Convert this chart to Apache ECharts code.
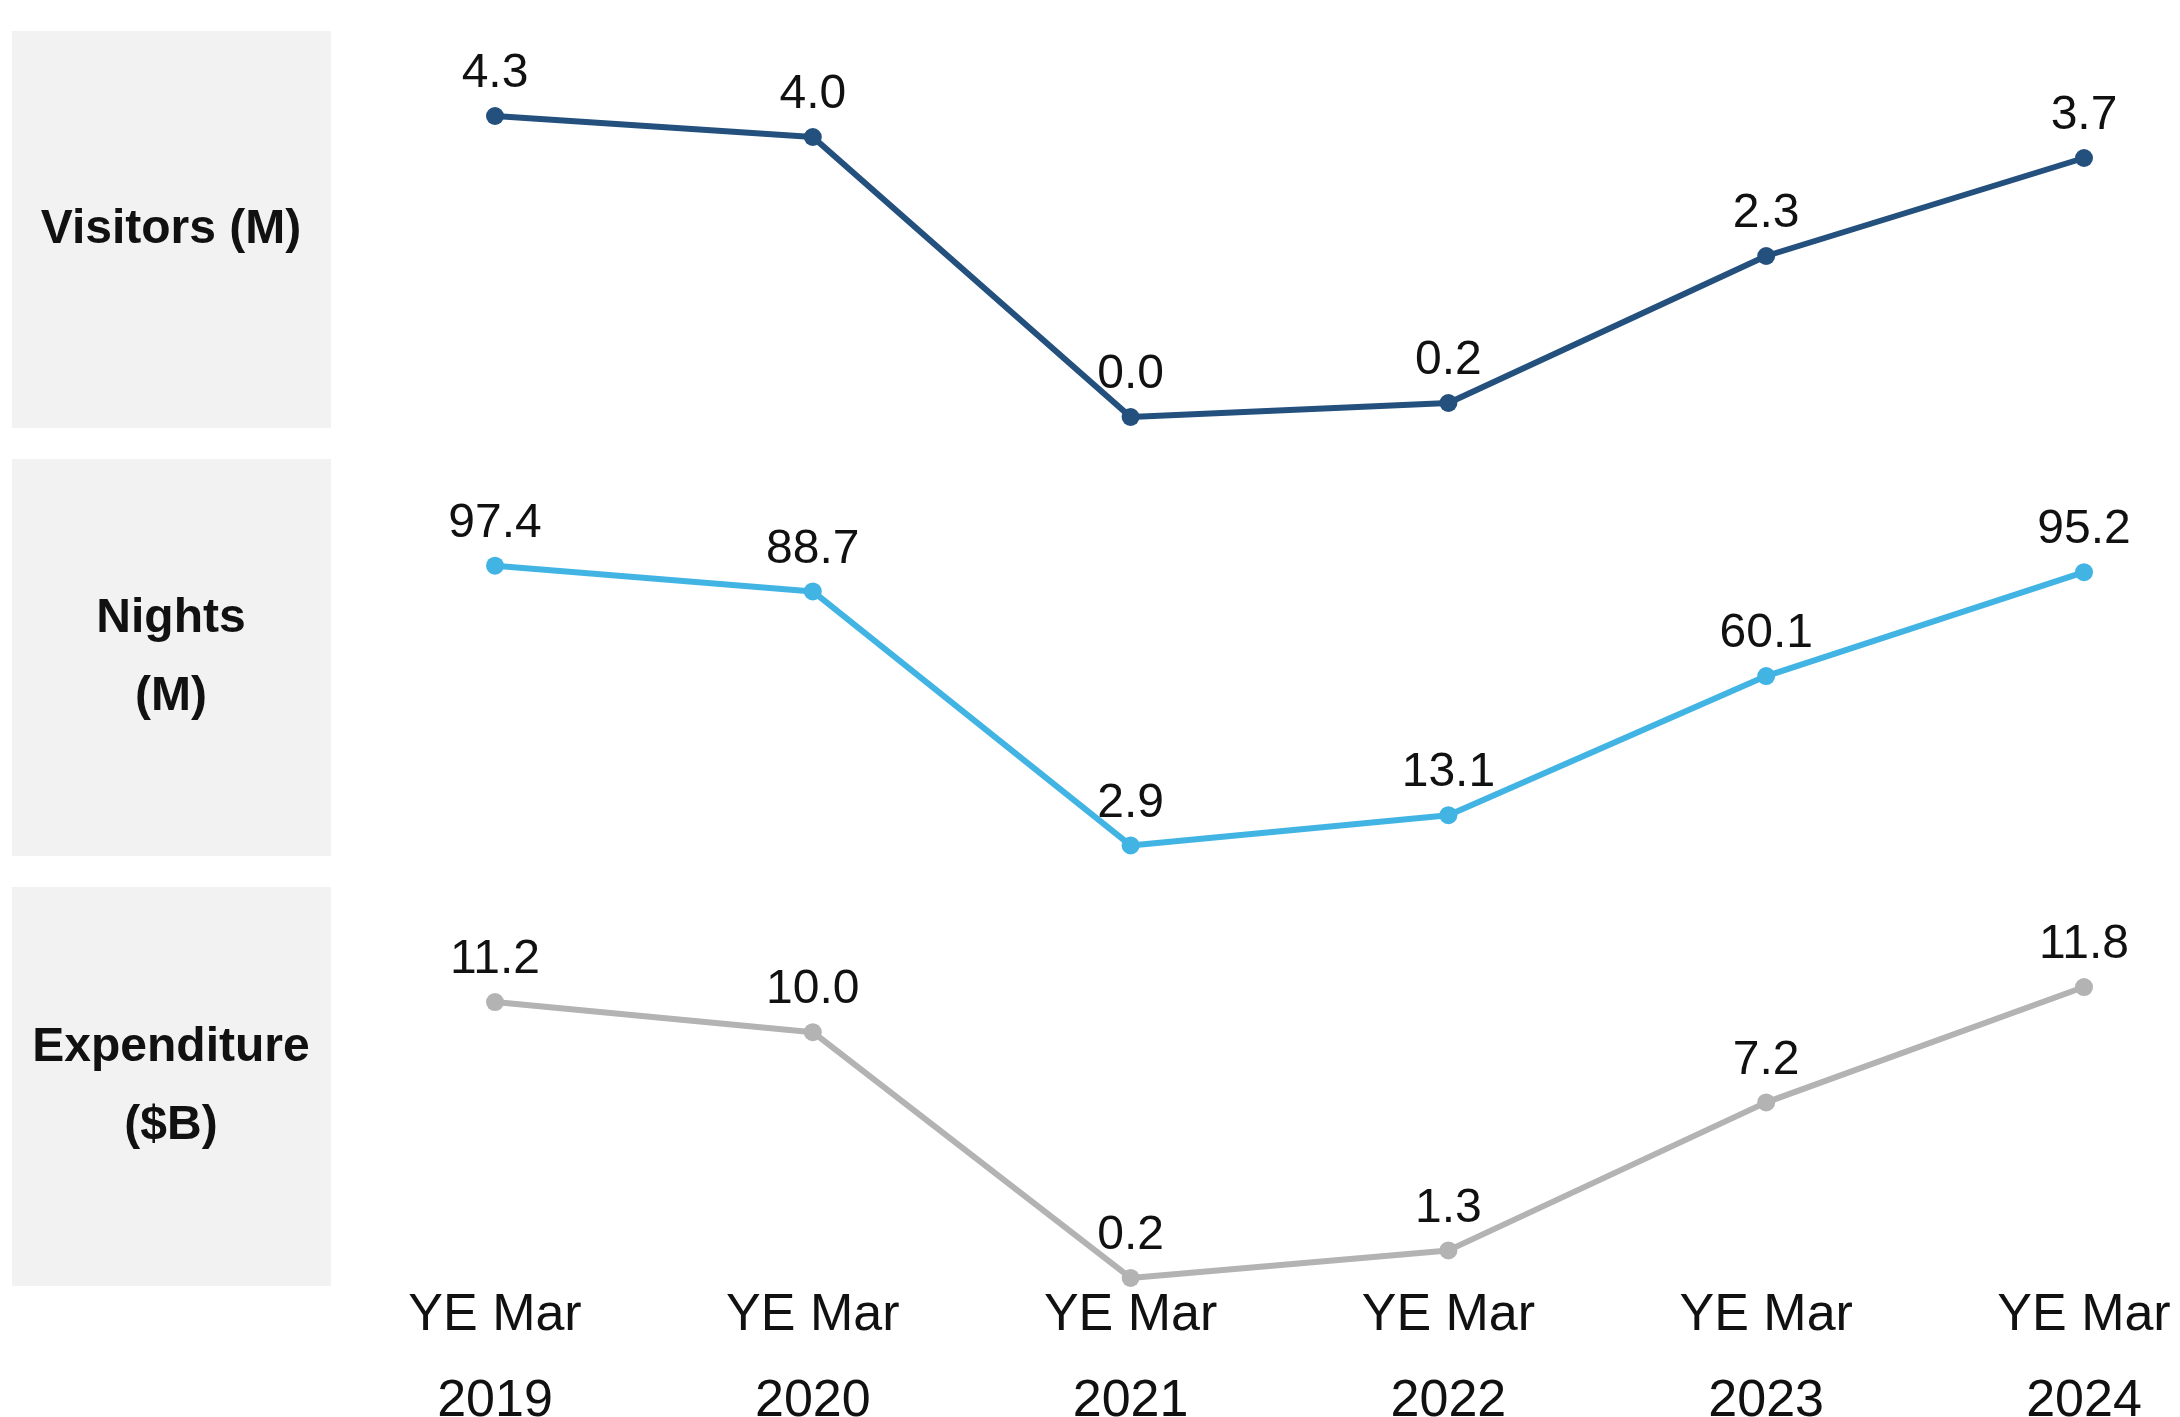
<!DOCTYPE html>
<html>
<head>
<meta charset="utf-8">
<title>Visitors, Nights, Expenditure</title>
<script src="https://cdn.jsdelivr.net/npm/echarts@6/dist/echarts.min.js"></script>
<style>
    html, body { margin: 0; padding: 0; background: #fff; }
    #mainChart { width: 2180px; height: 1417px; }
</style>
</head>
<body>
<div id="mainChart"></div>
<script>
const yearLabels = ['YE Mar\n2019', 'YE Mar\n2020', 'YE Mar\n2021', 'YE Mar\n2022', 'YE Mar\n2023', 'YE Mar\n2024'];
const visitorsData = [4.3, 4.0, 0.0, 0.2, 2.3, 3.7];
const nightsData = [97.4, 88.7, 2.9, 13.1, 60.1, 95.2];
const expenditureData = [11.2, 10.0, 0.2, 1.3, 7.2, 11.8];
const panelNames = ['Visitors (M)', 'Nights\n(M)', 'Expenditure\n($B)'];

class PanelChart {
    constructor(id) {
        this.myChart = echarts.init(document.getElementById(id));
        this.font = '"Liberation Sans", Arial, sans-serif';
        // one strip per measure: grid top/height and y max
        this.panels = [
            { data: visitorsData, color: '#23507d', top: 67, height: 350, max: 5, boxTop: 31, boxH: 397 },
            { data: nightsData, color: '#41b4e4', top: 558, height: 296, max: 100, boxTop: 459, boxH: 397 },
            { data: expenditureData, color: '#b3b3b3', top: 982, height: 301, max: 12, boxTop: 887, boxH: 399 }
        ];
    }
    makeGrids() {
        return this.panels.map(p => ({
            left: 495,
            right: 96,
            top: p.top,
            height: p.height,
            containLabel: false,
            outerBoundsMode: 'none'
        }));
    }
    makeXAxis() {
        return this.panels.map((p, i) => ({
            type: 'category',
            gridIndex: i,
            boundaryGap: false,
            data: yearLabels,
            axisLine: { show: false },
            axisTick: { show: false },
            axisLabel: {
                show: i == 2,
                margin: -10,
                fontSize: 52,
                lineHeight: 86,
                color: '#111',
                fontFamily: this.font,
                interval: 0
            }
        }));
    }
    makeYAxis() {
        return this.panels.map((p, i) => ({
            type: 'value',
            gridIndex: i,
            min: 0,
            max: p.max,
            show: false
        }));
    }
    makeSeries() {
        return this.panels.map((p, i) => ({
            type: 'line',
            xAxisIndex: i,
            yAxisIndex: i,
            data: p.data,
            symbol: 'circle',
            symbolSize: 18,
            lineStyle: { width: 6, color: p.color },
            itemStyle: { color: p.color },
            label: {
                show: true,
                position: 'top',
                distance: 9,
                fontSize: 48,
                color: '#111',
                fontFamily: this.font,
                formatter: d => d.value.toFixed(1)
            },
            animation: false
        }));
    }
    makeGraphic() {
        let items = [];
        this.panels.forEach((p, i) => {
            items.push({
                type: 'rect',
                z: -10,
                shape: { x: 12, y: p.boxTop, width: 319, height: p.boxH },
                style: { fill: '#f2f2f2' }
            });
            items.push({
                type: 'text',
                z: -5,
                x: 171,
                y: p.boxTop + p.boxH / 2,
                style: {
                    text: panelNames[i],
                    fontSize: 48,
                    fontWeight: 'bold',
                    lineHeight: 78,
                    fill: '#111',
                    fontFamily: this.font,
                    align: 'center',
                    verticalAlign: 'middle'
                }
            });
        });
        return items;
    }
    setChart() {
        let option = {
            animation: false,
            backgroundColor: '#fff',
            grid: this.makeGrids(),
            xAxis: this.makeXAxis(),
            yAxis: this.makeYAxis(),
            series: this.makeSeries(),
            graphic: this.makeGraphic()
        };
        this.myChart.setOption(option);
    }
}
let Start = new PanelChart('mainChart');
Start.setChart();
</script>
</body>
</html>
